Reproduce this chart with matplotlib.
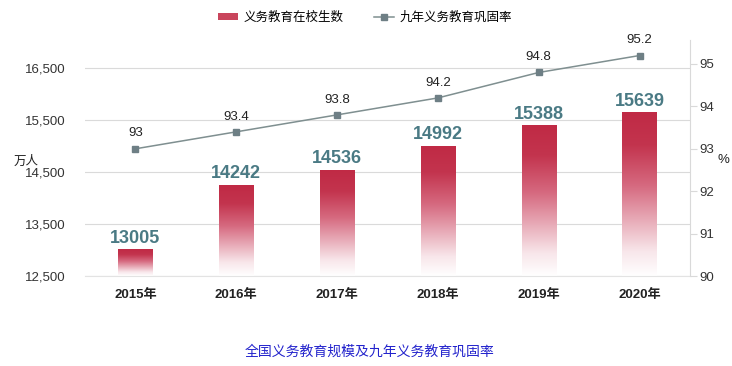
import matplotlib
matplotlib.use("Agg")
import matplotlib.pyplot as plt
import numpy as np
from matplotlib.colors import LinearSegmentedColormap
from matplotlib.lines import Line2D
from matplotlib.patches import Patch

plt.rcParams['font.family'] = ['Liberation Sans', 'Noto Sans CJK SC', 'DejaVu Sans']

years = ["2015年", "2016年", "2017年", "2018年", "2019年", "2020年"]
students = [13005, 14242, 14536, 14992, 15388, 15639]
rate = [93, 93.4, 93.8, 94.2, 94.8, 95.2]
left_ticks = [12500, 13500, 14500, 15500, 16500]
right_ticks = [90, 91, 92, 93, 94, 95]

fig = plt.figure(figsize=(7.32, 3.66), dpi=100)
ax = fig.add_axes([85/732, 1-276/366, 605/732, 236/366])
ax2 = ax.twinx()

ylo, yhi = 12500, 12500 + 236/52*1000
r_lo, r_hi = 90, 90 + 236/42.4
ax2.set_ylim(r_lo, r_hi)

x = np.arange(len(years))
bw = 0.34
cmap = LinearSegmentedColormap.from_list("g", [(0, "#ffffff"), (0.15, "#f8e6ea"), (0.55, "#d66a80"), (0.8, "#c3344e"), (1.0, "#c02a45")])
grad = np.linspace(0, 1, 256).reshape(-1, 1)
bars = ax.bar(x, [s - ylo for s in students], bw, bottom=ylo, color="none", zorder=2)
for b in bars:
    x0, y0 = b.get_x(), b.get_y()
    w, h = b.get_width(), b.get_height()
    ax.imshow(grad, cmap=cmap, origin="lower", aspect="auto",
              extent=(x0, x0 + w, y0, y0 + h), zorder=2)
ax.set_xlim(-0.5, 5.5)
ax.set_ylim(ylo, yhi)

for xi, s in zip(x, students):
    ax.text(xi, s + 60, str(s), ha="center", va="bottom", fontsize=13,
            fontweight="bold", color="#4a7a84", zorder=5)

ax.set_yticks(left_ticks)
ax.set_yticklabels([f"{t:,}" for t in left_ticks], fontsize=9.5, color="#333333")
ax.yaxis.grid(True, color="#dadada", lw=0.8)
ax.set_axisbelow(True)
ax.tick_params(axis="y", length=0, pad=14)
ax.set_xticks(x)
ax.set_xticklabels(years, fontsize=9.5, fontweight="bold", color="#222222")
ax.tick_params(axis="x", length=0, pad=9)
for sp in ["top", "left", "right"]:
    ax.spines[sp].set_visible(False)
ax.spines["bottom"].set_color("#e3e3e3")

ax2.plot(x, rate, color="#7f8f90", lw=1.1, marker="s", markersize=5,
         markerfacecolor="#6e7f85", markeredgecolor="#6e7f85", zorder=4)
for xi, r in zip(x, rate):
    ax2.text(xi, r + 0.22, f"{r:g}", ha="center", va="bottom", fontsize=9.5, color="#222222")
ax2.set_yticks(right_ticks)
ax2.set_yticklabels([str(t) for t in right_ticks], fontsize=9.5, color="#333333")
ax2.tick_params(axis="y", length=5, color="#d9d9d9", pad=2)
for sp in ["top", "left", "bottom"]:
    ax2.spines[sp].set_visible(False)
ax2.spines["right"].set_color("#d9d9d9")

fig.text(14/732, 1-162/366, "万人", fontsize=9, color="#222222", va="center", ha="left")
fig.text(723/732, 1-160/366, "%", fontsize=9.5, color="#222222", va="center", ha="center")

handles = [Patch(facecolor="#c9455c", edgecolor="none"),
           Line2D([0], [0], color="#7f8f90", lw=1.1, marker="s", markersize=4,
                  markerfacecolor="#6e7f85", markeredgecolor="#6e7f85")]
fig.legend(handles, ["义务教育在校生数", "九年义务教育巩固率"], loc="center",
           bbox_to_anchor=(365/732, 1-18/366), ncol=2, frameon=False, fontsize=9,
           handlelength=1.6, handleheight=0.5, columnspacing=2.5, handletextpad=0.4)

fig.text(370/732, 1-352/366, "全国义务教育规模及九年义务教育巩固率", fontsize=10,
         color="#2222cc", ha="center", va="center")

fig.savefig("out.png", dpi=100)
